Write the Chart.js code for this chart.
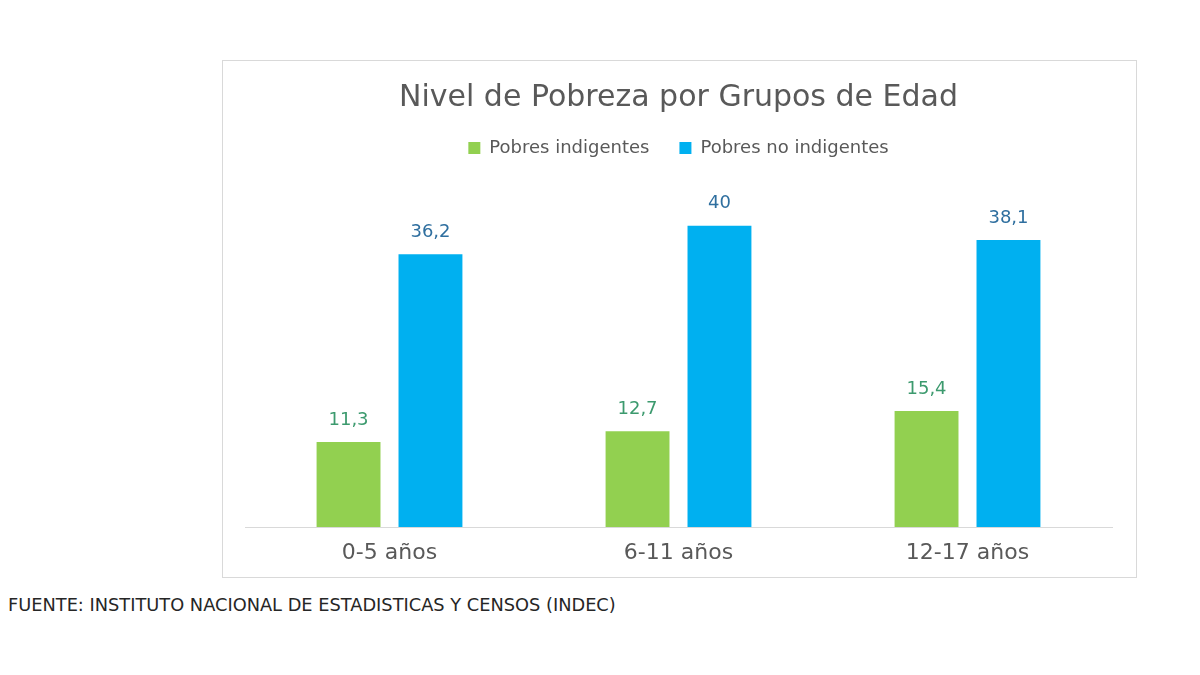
<!DOCTYPE html>
<html>
<head>
<meta charset="utf-8">
<script src="https://cdn.jsdelivr.net/npm/chart.js@4"></script>
<style>
    body { margin: 0; background: #fff; width: 1200px; height: 675px; position: relative; overflow: hidden; }
    .chart-box { position: absolute; left: 222px; top: 60px; width: 915px; height: 518px; box-sizing: border-box; border: 1px solid #d9d9d9; }
    .chart-box canvas { display: block; }
    .fuente { position: absolute; left: 8px; top: 594px; font-family: "DejaVu Sans", sans-serif; font-size: 17.8px; color: #262626; }
</style>
</head>
<body>
<div class="chart-box"><canvas id="barChart" width="913" height="516"></canvas></div>
<div class="fuente">FUENTE: INSTITUTO NACIONAL DE ESTADISTICAS Y CENSOS (INDEC)</div>
<script>
const categories = ['0-5 años', '6-11 años', '12-17 años'];
const indigentes = [11.3, 12.7, 15.4];
const noIndigentes = [36.2, 40, 38.1];

const FONT = "DejaVu Sans, sans-serif";

/* ======= value labels above bars ======= */
const barValues = {
    id: 'barValues',
    afterDatasetsDraw(chart) {
        const ctx = chart.ctx;
        ctx.save();
        ctx.font = '18px ' + FONT;
        ctx.textAlign = 'center';
        ctx.textBaseline = 'middle';
        chart.data.datasets.forEach(function (ds, i) {
            chart.getDatasetMeta(i).data.forEach(function (bar, j) {
                ctx.fillStyle = ds.valueColor;
                ctx.fillText(String(ds.data[j]).replace('.', ','), bar.x, bar.y - 22);
            });
        });
        ctx.restore();
    }
};

new Chart(document.getElementById('barChart'), {
    type: 'bar',
    data: {
        labels: categories,
        datasets: [{
                label: 'Pobres indigentes',
                data: indigentes,
                backgroundColor: '#92D050',
                valueColor: '#3C9A6E',
                categoryPercentage: 0.567,
                barPercentage: 0.78,
            },
            {
                label: 'Pobres no indigentes',
                data: noIndigentes,
                backgroundColor: '#00B0F0',
                valueColor: '#2F6F9F',
                categoryPercentage: 0.567,
                barPercentage: 0.78,
            },
        ],
    },
    options: {
        responsive: false,
        animation: false,
        layout: {
            padding: { left: 22, right: 24, top: 0, bottom: -2 },
        },
        plugins: {
            title: {
                display: true,
                text: 'Nivel de Pobreza por Grupos de Edad',
                color: '#595959',
                font: { family: FONT, size: 30, weight: 'normal' },
                padding: { top: 19, bottom: -7 },
            },
            legend: {
                position: 'top',
                labels: {
                    color: '#595959',
                    boxWidth: 12,
                    boxHeight: 12,
                    padding: 30,
                    font: { family: FONT, size: 18 },
                },
            },
            tooltip: { enabled: false },
        },
        scales: {
            y: {
                display: false,
                min: 0,
                max: 47.8,
            },
            x: {
                grid: { display: false, drawTicks: false },
                border: { display: true, color: '#d9d9d9', width: 1 },
                ticks: {
                    color: '#595959',
                    padding: 15,
                    font: { family: FONT, size: 22, lineHeight: 1 },
                },
            },
        },
    },
    plugins: [barValues]
});
</script>
</body>
</html>
